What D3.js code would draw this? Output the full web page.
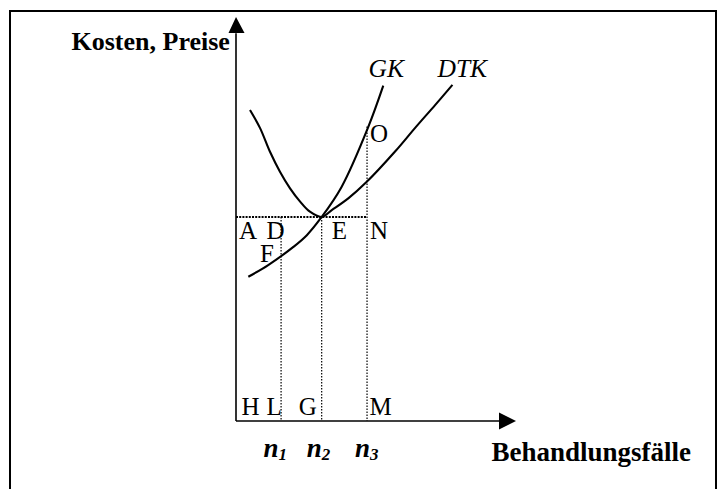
<!DOCTYPE html>
<html>
<head>
<meta charset="utf-8">
<script src="https://cdn.jsdelivr.net/npm/d3@7"></script>
<style>
  body { margin: 0; background: #fff; }
  text { font-family: "Liberation Serif", "Times New Roman", serif; fill: #000; }
</style>
</head>
<body>
<script>
// curve points (x = Behandlungsfaelle, y = Kosten), arbitrary units 0..100
var gkX = [4.4, 11.5, 20.5, 25.3, 30.6, 37.75, 47.25, 52.6];
var gkY = [35.7, 38.6, 43.1, 46.0, 50.5, 58.0, 72.8, 83.0];
var dtkX = [5.0, 8.6, 12.1, 15.7, 19.3, 22.9, 26.4, 30.6, 34.2, 40.1, 46.7, 56.8, 63.9, 71.1, 77.3];
var dtkY = [77.0, 72.5, 66.7, 61.7, 57.6, 54.3, 51.8, 50.5, 52.2, 55.1, 59.2, 66.7, 72.5, 78.2, 83.2];
var nValues = [16.1, 30.6, 46.8];
var nSubs = ["1", "2", "3"];
var eLevel = 50.5;   // Kosten im Punkt E
var oLevel = 72.9;   // GK bei n3 (Punkt O)

var width = 720, height = 489;
var svg = d3.select("body").append("svg").attr("width", width).attr("height", height);

// frame around the figure
svg.append("rect")
  .attr("x", 10).attr("y", 11)
  .attr("width", 706).attr("height", 500)
  .attr("fill", "none").attr("stroke", "#000").attr("stroke-width", 2);

var x = d3.scaleLinear().domain([0, 100]).range([236, 516]);
var y = d3.scaleLinear().domain([0, 100]).range([421, 17]);

// axes with arrow heads
svg.append("line")
  .attr("x1", x(0)).attr("y1", y(0)).attr("x2", x(0)).attr("y2", y(96))
  .attr("stroke", "#000").attr("stroke-width", 1.6);
svg.append("line")
  .attr("x1", x(0)).attr("y1", y(0)).attr("x2", x(94)).attr("y2", y(0))
  .attr("stroke", "#000").attr("stroke-width", 1.6);
svg.append("path")
  .attr("d", "M" + x(0) + "," + y(100) + "L" + (x(0) - 7.5) + "," + (y(100) + 16) + "L" + (x(0) + 8.5) + "," + (y(100) + 16) + "Z")
  .attr("fill", "#000");
svg.append("path")
  .attr("d", "M" + x(100) + "," + y(0) + "L" + (x(100) - 17) + "," + (y(0) - 8.5) + "L" + (x(100) - 17) + "," + (y(0) + 8.5) + "Z")
  .attr("fill", "#000");

// dotted helper lines
svg.append("line")
  .attr("x1", x(0)).attr("y1", y(eLevel)).attr("x2", x(nValues[2])).attr("y2", y(eLevel))
  .attr("stroke", "#000").attr("stroke-width", 2.2).attr("stroke-dasharray", "2,1.2");
var tops = [eLevel, eLevel, oLevel];
svg.selectAll(".vline")
  .data(nValues)
  .enter()
  .append("line")
  .attr("class", "vline")
  .attr("x1", d => x(d)).attr("x2", d => x(d))
  .attr("y1", (d, i) => y(tops[i])).attr("y2", y(0))
  .attr("stroke", "#000").attr("stroke-width", 1.2).attr("stroke-dasharray", "1.5,1.5");

// curves
var line = d3.line().x(d => x(d[0])).y(d => y(d[1])).curve(d3.curveCatmullRom.alpha(0.5));
svg.append("path")
  .attr("d", line(d3.zip(dtkX, dtkY)))
  .attr("fill", "none").attr("stroke", "#000").attr("stroke-width", 2.1);
svg.append("path")
  .attr("d", line(d3.zip(gkX, gkY)))
  .attr("fill", "none").attr("stroke", "#000").attr("stroke-width", 2.1);

// axis titles
svg.append("text").attr("x", 71.5).attr("y", 49.5)
  .attr("font-size", "26px").attr("font-weight", "bold").text("Kosten, Preise");
svg.append("text").attr("x", 491.5).attr("y", 461)
  .attr("font-size", "27px").attr("font-weight", "bold").text("Behandlungsfälle");

// curve names
svg.append("text").attr("x", 368.5).attr("y", 77)
  .attr("font-size", "25.5px").attr("font-style", "italic").text("GK");
svg.append("text").attr("x", 437.5).attr("y", 77)
  .attr("font-size", "25.5px").attr("font-style", "italic").text("DTK");

// point letters
function letter(t, px, py) {
  svg.append("text").attr("x", px).attr("y", py).attr("font-size", "25px").text(t);
}
letter("O", x(nValues[2]) + 3, y(oLevel) + 16);
letter("A", x(0) + 3, y(eLevel) + 22);
letter("D", x(nValues[0]) - 14.5, y(eLevel) + 22);
letter("E", x(nValues[1]) + 10, y(eLevel) + 22);
letter("N", x(nValues[2]) + 3, y(eLevel) + 22);
letter("F", x(nValues[0]) - 21, y(eLevel) + 45);
letter("H", x(0) + 5.5, y(0) - 6);
letter("L", x(nValues[0]) - 14.5, y(0) - 6);
letter("G", x(nValues[1]) - 23, y(0) - 6);
letter("M", x(nValues[2]) + 2.5, y(0) - 6);

// n1, n2, n3 under the x axis
var nOff = [-17.5, -15, -12];
nValues.forEach(function (v, i) {
  var t = svg.append("text").attr("x", x(v) + nOff[i]).attr("y", 457)
    .attr("font-size", "27px").attr("font-weight", "bold").attr("font-style", "italic");
  t.append("tspan").text("n");
  t.append("tspan").attr("font-size", "17px").attr("dy", 3).text(nSubs[i]);
});
</script>
</body>
</html>
